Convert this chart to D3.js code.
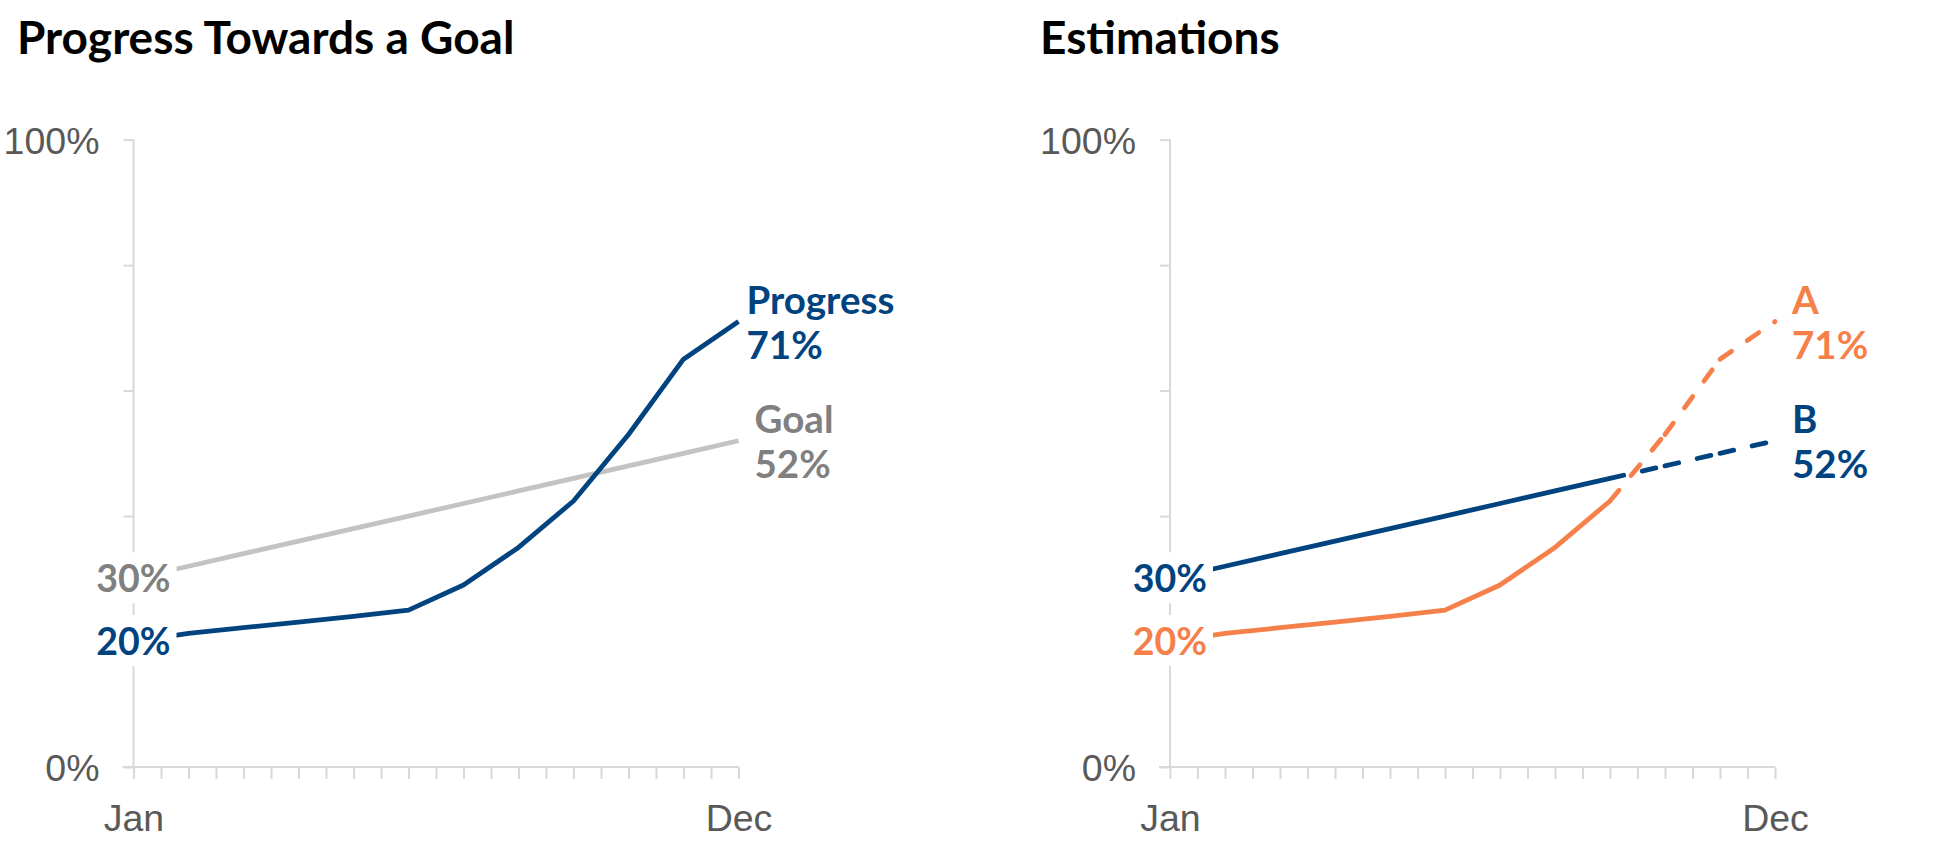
<!DOCTYPE html>
<html>
<head>
<meta charset="utf-8">
<script src="https://cdn.jsdelivr.net/npm/d3@7/dist/d3.min.js"></script>
<style>
  html, body { margin: 0; padding: 0; background: #ffffff; }
  svg { display: block; font-family: Lato, "Open Sans", sans-serif; }
</style>
</head>
<body>
<svg id="chart" width="1937" height="856"></svg>
<script>
// ---------- data ----------
const months = ["Jan", "Feb", "Mar", "Apr", "May", "Jun", "Jul", "Aug", "Sep", "Oct", "Nov", "Dec"];
const progress = [20, 21.3, 22.2, 23.1, 24.0, 25, 29, 35, 42.4, 53, 65, 71];
const goal = [30, 32, 34, 36, 38, 40, 42, 44, 46, 48, 50, 52];
const yTickValues = [0, 20, 40, 60, 80, 100];
const yTickLabels = { 0: "0%", 100: "100%" };
const xTickLabels = { 0: "Jan", 11: "Dec" };
const estimateFrom = 8; // index of Sep: dashed afterwards
const titles = ["Progress Towards a Goal", "Estimations"];

// ---------- style ----------
const BLUE = "#00437f";
const ORANGE = "#f5804a";
const GRAY_LINE = "#c3c3c3";
const GRAY_TEXT = "#808080";
const AXIS = "#d9d9d9";
const TICK_TEXT = "#595959";
const LW = 4.8;

const svg = d3.select("#chart");
const W = 605, H = 627.4, TOP = 139.6;

const x = d3.scaleLinear().domain([0, 11]).range([0, W]);
const y = d3.scaleLinear().domain([0, 100]).range([H, 0]);

function drawAxes(g) {
  const ya = d3.axisLeft(y).tickValues(yTickValues).tickSize(10).tickPadding(24)
    .tickFormat(d => yTickLabels[d] || "");
  const gy = g.append("g").call(ya);
  gy.select(".domain").remove();
  gy.selectAll(".tick line").attr("stroke", AXIS).attr("stroke-width", 2);
  gy.selectAll(".tick text").attr("fill", TICK_TEXT).style("font-size", "37.5px")
    .style("font-weight", 400).attr("dy", "0.36em");
  g.append("line").attr("x1", 0).attr("x2", 0).attr("y1", y(100)).attr("y2", y(0))
    .attr("stroke", AXIS).attr("stroke-width", 2);

  const xa = d3.axisBottom(x).tickValues(d3.range(0, 11.01, 0.5)).tickSize(12).tickPadding(25)
    .tickFormat(d => xTickLabels[d] || "");
  const gx = g.append("g").attr("transform", `translate(0,${H})`).call(xa);
  gx.select(".domain").remove();
  gx.selectAll(".tick line").attr("stroke", AXIS).attr("stroke-width", 2);
  gx.selectAll(".tick text").attr("fill", TICK_TEXT).style("font-size", "37.5px")
    .style("font-weight", 400);
  g.append("line").attr("x1", -11).attr("x2", W).attr("y1", y(0)).attr("y2", y(0))
    .attr("stroke", AXIS).attr("stroke-width", 2);
}

function solidPath(g, values, color, width, from, to) {
  const ln = d3.line().x(i => x(i)).y(i => y(values[i]));
  g.append("path").datum(d3.range(from, to + 1)).attr("d", ln)
    .attr("fill", "none").attr("stroke", color).attr("stroke-width", width)
    .attr("stroke-linejoin", "round");
}

function dashedPath(g, values, color, width, from, to) {
  const ln = d3.line().x(i => x(i)).y(i => y(values[i]));
  for (let i = from; i < to; i++) {
    g.append("path").datum([i, i + 1]).attr("d", ln)
      .attr("fill", "none").attr("stroke", color).attr("stroke-width", width)
      .attr("stroke-dasharray", "14,19").attr("stroke-linecap", "round");
  }
}

function startLabel(g, value, text, color) {
  const t = g.append("text").attr("x", 37).attr("y", y(value)).attr("dy", "0.36em")
    .attr("text-anchor", "end").attr("fill", color)
    .style("font-size", "37.5px").style("font-weight", 700).text(text);
  const b = t.node().getBBox();
  g.insert("rect", () => t.node())
    .attr("x", b.x - 4).attr("y", b.y - 3).attr("width", b.width + 10).attr("height", b.height + 6)
    .attr("fill", "#ffffff");
}

function endLabel(g, value, name, pct, color, dx) {
  const t = g.append("text").attr("x", x(11) + dx).attr("y", y(value))
    .attr("fill", color).style("font-size", "38.5px").style("font-weight", 700);
  t.append("tspan").attr("x", x(11) + dx).attr("dy", -8).text(name);
  t.append("tspan").attr("x", x(11) + dx).attr("dy", 45).text(pct);
}

// ---------- panel 1 ----------
const g1 = svg.append("g").attr("transform", `translate(133.5,${TOP})`);
svg.append("text").attr("x", 17).attr("y", 54).text(titles[0])
  .style("font-size", "46px").style("font-weight", 700).attr("fill", "#000");
drawAxes(g1);
solidPath(g1, goal, GRAY_LINE, LW, 0, 11);
solidPath(g1, progress, BLUE, LW, 0, 11);
startLabel(g1, goal[0], goal[0] + "%", GRAY_TEXT);
startLabel(g1, progress[0], progress[0] + "%", BLUE);
endLabel(g1, progress[11], "Progress", Math.round(progress[11]) + "%", BLUE, 8);
endLabel(g1, goal[11], "Goal", goal[11] + "%", GRAY_TEXT, 16);

// ---------- panel 2 ----------
const g2 = svg.append("g").attr("transform", `translate(1170,${TOP})`);
svg.append("text").attr("x", 1040).attr("y", 54).text(titles[1])
  .style("font-size", "46px").style("font-weight", 700).attr("fill", "#000");
drawAxes(g2);
solidPath(g2, progress, ORANGE, LW, 0, estimateFrom);
dashedPath(g2, progress, ORANGE, LW, estimateFrom, 11);
solidPath(g2, goal, BLUE, LW, 0, estimateFrom);
dashedPath(g2, goal, BLUE, LW, estimateFrom, 11);
startLabel(g2, goal[0], goal[0] + "%", BLUE);
startLabel(g2, progress[0], progress[0] + "%", ORANGE);
endLabel(g2, progress[11], "A", Math.round(progress[11]) + "%", ORANGE, 17);
endLabel(g2, goal[11], "B", goal[11] + "%", BLUE, 17);
</script>
</body>
</html>
